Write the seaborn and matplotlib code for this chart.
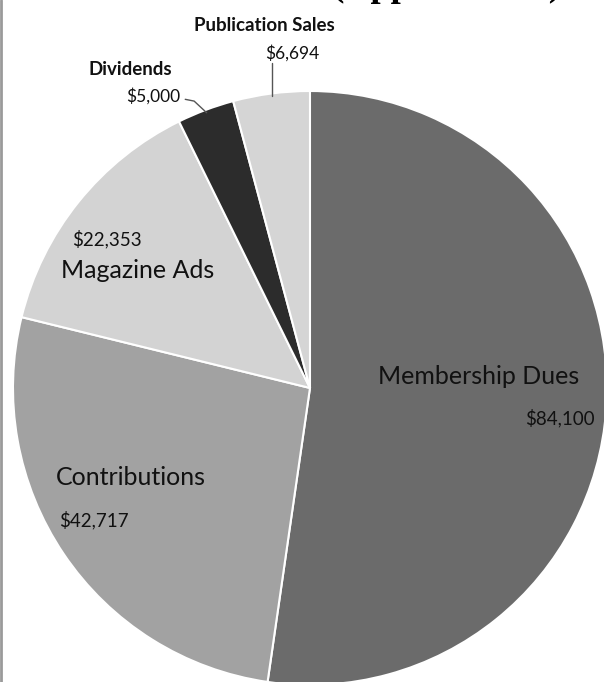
import matplotlib
matplotlib.use('Agg')
import numpy as np
import seaborn as sns
import matplotlib.pyplot as plt
from matplotlib.lines import Line2D

sns.set_theme(style='white')
plt.rcParams['font.family'] = ['Lato', 'DejaVu Sans']

# data
categories = ['Membership Dues', 'Contributions', 'Magazine Ads', 'Dividends', 'Publication Sales']
amounts = [84100, 42717, 22353, 5000, 6694]
value_labels = ['$84,100', '$42,717', '$22,353', '$5,000', '$6,694']
shades = ['#6b6b6b', '#a2a2a2', '#d3d3d3', '#2c2c2c', '#d5d5d5']

fig = plt.figure(figsize=(6.04, 6.82), dpi=100)
ax = fig.add_axes([0.0215, -0.0044, 0.9834, 0.871])
wedges, _ = ax.pie(amounts, colors=shades, startangle=90, counterclock=False,
                   wedgeprops=dict(edgecolor='white', linewidth=1.5))
ax.set_xlim(-1, 1)
ax.set_ylim(-1, 1)
ax.set_aspect('equal')
ax.axis('off')

ink = '#111111'

# big labels inside the slices
ax.text(0.569, 0.040, categories[0], ha='center', va='center', fontsize=18, color=ink)
ax.text(0.842, -0.101, value_labels[0], ha='center', va='center', fontsize=13.5, color=ink)
ax.text(-0.603, -0.300, categories[1], ha='center', va='center', fontsize=18, color=ink)
ax.text(-0.727, -0.444, value_labels[1], ha='center', va='center', fontsize=13.5, color=ink)
ax.text(-0.582, 0.394, categories[2], ha='center', va='center', fontsize=18, color=ink)
ax.text(-0.684, 0.502, value_labels[2], ha='center', va='center', fontsize=13.5, color=ink)

# small slices get outside labels with leader lines
ax.text(-0.606, 1.074, categories[3], ha='center', va='center', fontsize=13.5,
        weight='bold', color=ink)
ax.text(-0.529, 0.983, value_labels[3], ha='center', va='center', fontsize=12.5, color=ink)
ax.text(-0.155, 1.222, categories[4], ha='center', va='center', fontsize=13.5,
        weight='bold', color=ink)
ax.text(-0.061, 1.128, value_labels[4], ha='center', va='center', fontsize=12.5, color=ink)


def mid_point(w, r=1.0):
    a = np.deg2rad((w.theta1 + w.theta2) / 2)
    return r * np.cos(a), r * np.sin(a)


dx, dy = mid_point(wedges[3], 0.99)
ax.plot([-0.42, -0.39, dx], [0.972, 0.966, dy], color='#555555', lw=1, clip_on=False)
px, py = mid_point(wedges[4], 0.99)
ax.plot([px, px], [py, 1.094], color='#555555', lw=1, clip_on=False)

# title is cut off by the scan, only the bottom shows
fig.text(0.622, 1.0 + 4 / 682, 'Revenue (Approximate)', ha='center', va='baseline',
         family='Liberation Serif', weight='bold', fontsize=26, color='black')

# scan border on the left
fig.add_artist(Line2D([0.002, 0.002], [0, 1], transform=fig.transFigure,
                      color='#9a9a9a', lw=2))

fig.savefig('out.png', dpi=100)
